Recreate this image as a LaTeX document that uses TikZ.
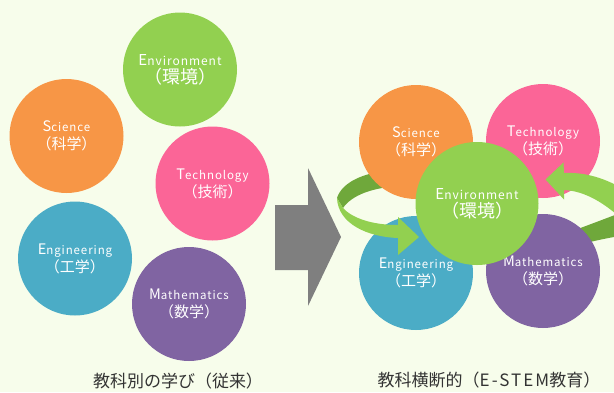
\documentclass[tikz,border=0pt]{standalone}
\usepackage{fontspec}
\newfontfamily\jp{Noto Sans CJK JP}
\newfontfamily\lat[LetterSpace=8]{Noto Sans CJK JP}
\newfontfamily\latcap[LetterSpace=12]{Noto Sans CJK JP}
\definecolor{bgc}{HTML}{F7FDEB}
\definecolor{cgreen}{HTML}{92D050}
\definecolor{corange}{HTML}{F79646}
\definecolor{cpink}{HTML}{FB6597}
\definecolor{cblue}{HTML}{4BACC6}
\definecolor{cpurple}{HTML}{8064A2}
\definecolor{cgray}{HTML}{7F7F7F}
\definecolor{cdark}{HTML}{6FA83B}
\definecolor{ctext}{HTML}{333333}
\newcommand{\ctxt}[3]{{\lat\fontsize{14.5}{17}\selectfont #1\fontsize{11.5}{17}\selectfont #2}\\[1pt]{\jp\fontsize{15}{17}\selectfont （#3）}}
\newcommand{\etxt}[3]{{\lat\fontsize{15}{19}\selectfont #1\fontsize{12}{19}\selectfont #2}\\[1pt]{\jp\fontsize{18}{19}\selectfont （#3）}}
\begin{document}
\begin{tikzpicture}[x=1pt,y=-1pt,
  ball/.style={circle, minimum size=114pt, inner sep=0pt, text=white, align=center, font=\fontsize{12}{17}\selectfont},
  bigball/.style={ball, minimum size=123pt},
  caption/.style={text=ctext, inner sep=0pt, font=\jp\fontsize{17}{19}\selectfont}]
\useasboundingbox (0,0) rectangle (614,392);
\fill[bgc] (0,0) rectangle (614,392);
\clip (0,0) rectangle (614,392);
% left group
\node[ball, fill=cgreen]  (envL)  at (180,69.5)  {\etxt{E}{nvironment}{環境}};
\node[ball, fill=corange] (sciL)  at (66.5,136)  {\ctxt{S}{cience}{科学}};
\node[ball, fill=cpink]   (tecL)  at (212.5,183.5) {\ctxt{T}{echnology}{技術}};
\node[ball, fill=cblue]   (engL)  at (75,258.5)  {\ctxt{E}{ngineering}{工学}};
\node[ball, fill=cpurple] (matL)  at (189,304)   {\ctxt{M}{athematics}{数学}};
\node[caption] (capL) at (178,381) {教科別の学び（従来）};
% big gray arrow
\fill[cgray] (275,205) -- (308,205) -- (308,168) -- (341,237) -- (308,306) -- (308,270) -- (275,270) -- cycle;
% ribbon back parts
\fill[cdark] (398,170) .. controls (365,171) and (342,182) .. (337,198) -- (343,208) .. controls (352,195) and (372,188) .. (398,186) -- cycle;
\fill[cdark] (625,211) .. controls (605,219) and (588,225) .. (570,232) -- (575,246) .. controls (592,241) and (608,238) .. (625,235) -- cycle;
% right group
\node[ball, fill=corange] (sciR) at (416,142) {\ctxt{S}{cience}{科学}};
\node[ball, fill=cpink]   (tecR) at (543,141) {\ctxt{T}{echnology}{技術}};
\node[ball, fill=cblue]   (engR) at (416,273) {\ctxt{E}{ngineering}{工学}};
\node[ball, fill=cpurple] (matR) at (543,271) {\ctxt{M}{athematics}{数学}};
% ribbon front parts
\fill[cgreen] (337,198) -- (343,208) .. controls (352,218) and (372,225) .. (398,225) -- (398,217) -- (419,237) -- (398,255) -- (398,238) .. controls (368,237) and (338,224) .. (337,198) -- cycle;
\fill[cgreen] (545.5,179.5) -- (563.5,162.5) -- (564,173) .. controls (585,172) and (605,178) .. (625,190) -- (625,222) .. controls (605,203) and (585,191) .. (564,190) -- (564,199.5) -- cycle;
\node[bigball, fill=cgreen] (envR) at (477,203.5) {\etxt{E}{nvironment}{環境}};
\node[caption] (capR) at (489,380) {教科横断的（{\latcap E-STEM}教育）};
\end{tikzpicture}
\end{document}
